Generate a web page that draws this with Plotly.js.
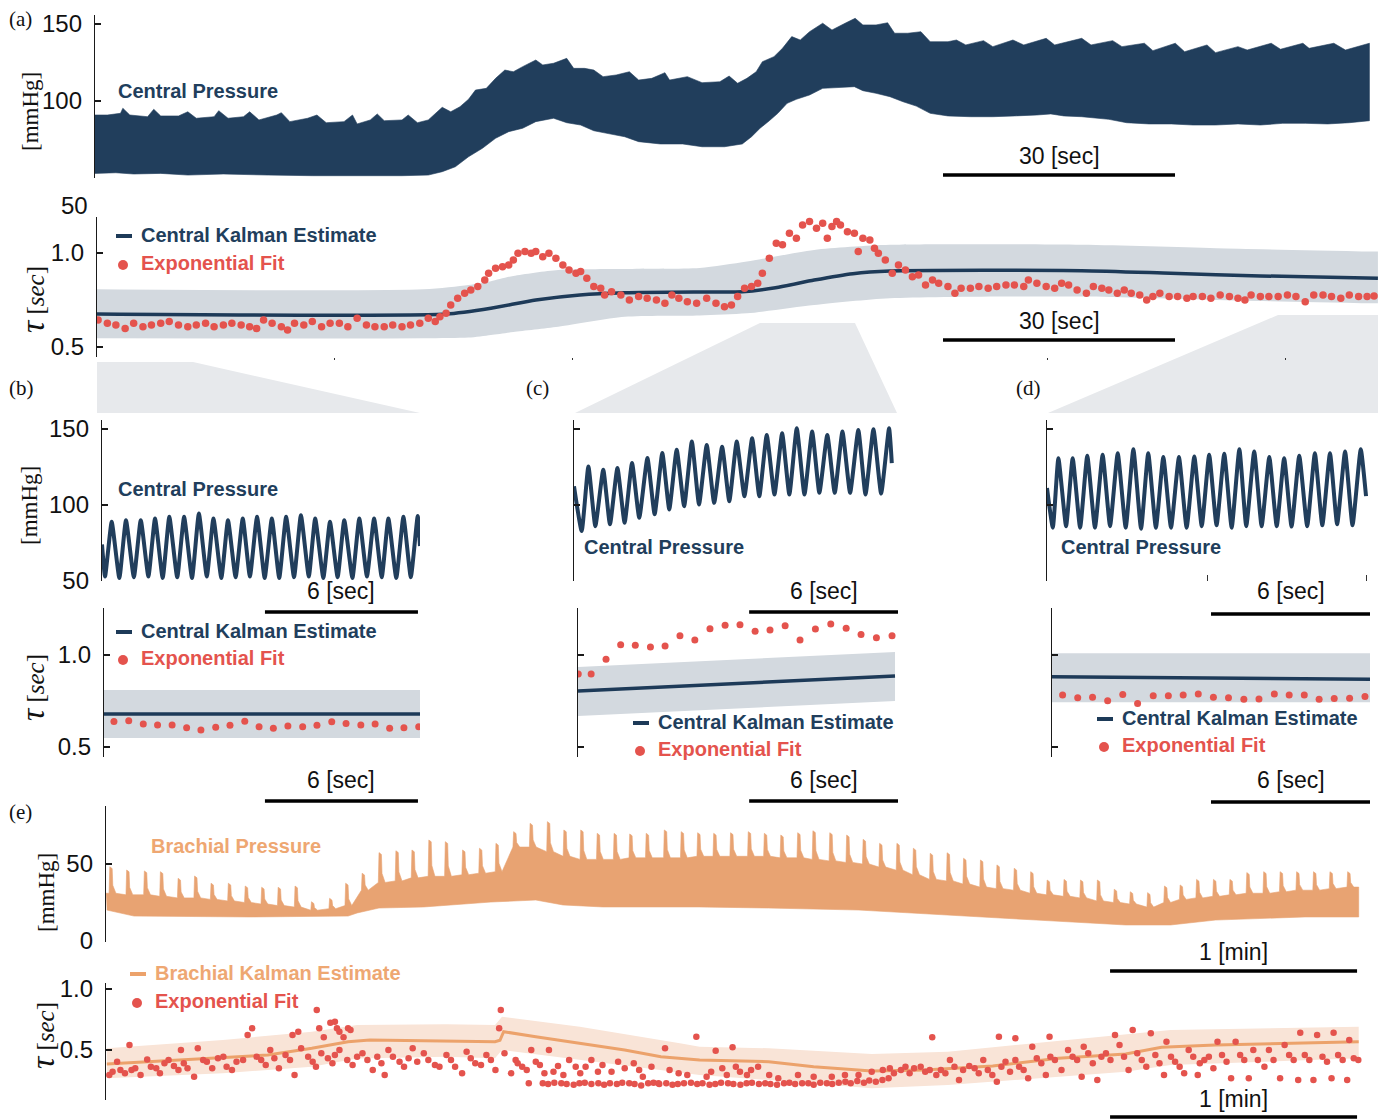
<!DOCTYPE html>
<html>
<head>
<meta charset="utf-8">
<script src="https://cdn.plot.ly/plotly-3.0.1.min.js"></script>
<style>
  html, body { margin: 0; padding: 0; background: #ffffff; }
  #fig { width: 1383px; height: 1119px; }
</style>
</head>
<body>
<div id="fig"></div>
<script>
// ---------------- (a) central pressure: beat-top and beat-bottom envelopes [s, mmHg]
const aUpperT = [0,1.6,3.3,3.6,4.5,6.8,7.6,8.5,10.8,12.0,13.1,15.4,16.0,17.2,19.2,20.0,21.2,23.5,24.1,25.2,27.5,28.7,29.9,32.2,33.3,33.9,35.6,36.5,37.4,39.7,40.5,41.7,43.1,44.9,46.0,47.2,48.3,49.2,50.6,51.8,53.0,54.1,55.3,57.0,57.9,59.3,61.0,61.9,63.3,64.5,65.7,67.4,69.1,70.3,72.0,73.7,74.3,76.6,78.5,80.8,82.0,83.1,84.3,85.5,86.3,87.8,88.9,90.1,91.2,92.4,94.1,95.3,97.0,98.3,99.3,101.0,102.5,103.4,105.1,106.8,108.0,110.3,111.4,112.6,114.9,116.1,118.7,120.1,123.0,124.1,127.6,128.8,131.6,132.8,135.7,136.8,139.7,140.9,143.8,144.9,147.8,149.0,152.1,153.3,156.2,157.0,160.2,161.7,164.8];
const aUpperP = [90.9,90.9,92.0,95.3,90.9,89.8,94.6,90.3,90.3,93.0,88.8,89.8,93.7,88.8,89.8,93.0,87.7,90.9,92.4,86.6,88.8,90.9,85.9,86.6,90.9,85.1,87.7,91.6,87.2,87.7,90.9,85.9,87.7,95.9,93.0,96.3,101.1,107.1,108.2,114.7,120.1,119.0,122.3,126.6,123.4,124.5,127.7,121.2,121.2,120.1,115.8,116.9,119.0,113.6,114.7,118.4,113.6,115.8,111.9,112.5,116.2,111.5,114.7,119.0,125.5,128.8,134.2,141.8,139.6,145.0,150.5,146.1,150.5,153.7,149.4,149.4,150.8,144.0,144.0,145.0,138.5,138.5,139.6,136.4,139.2,135.3,139.6,136.4,140.7,136.4,140.7,136.4,139.2,135.3,137.5,132.7,137.5,132.0,136.4,131.4,135.3,133.1,137.5,133.6,137.5,134.2,137.5,133.1,137.5];
const aLowerT = [0,2.7,5.0,8.5,12.0,16.6,22.4,28.1,33.9,39.7,43.1,44.9,46.6,48.3,50.1,51.8,53.5,55.3,57.0,59.3,61.0,62.8,64.5,66.2,68.5,70.3,73.1,76.0,78.5,81.4,83.7,84.9,86.0,87.2,88.3,89.5,90.7,92.4,94.1,96.4,98.2,99.3,101.0,102.8,104.5,106.2,108.0,110.3,113.2,116.1,118.9,121.8,123.6,125.3,127.6,131.1,133.4,136.3,139.2,142.0,144.9,147.8,150.7,153.6,156.5,159.4,162.2,164.8];
const aLowerP = [53.0,53.4,52.6,53.0,51.9,52.6,51.9,51.5,51.3,51.5,51.9,54.1,57.3,63.8,69.3,75.8,80.1,82.3,86.6,88.8,85.9,84.4,80.7,79.0,76.8,73.6,72.1,72.1,70.3,70.3,72.1,76.8,82.3,87.2,92.0,98.5,101.1,103.9,108.2,108.9,109.3,106.7,105.0,102.8,99.5,96.7,92.0,90.3,89.8,89.8,90.3,90.9,91.6,90.3,89.8,88.1,85.9,85.1,85.1,84.4,84.4,85.1,84.4,85.5,85.5,85.1,85.9,87.2];

// ---------------- (a) time constant: exponential fits and Kalman estimate [s, s]
const aFitT1 = [0.4,1.6,2.7,3.9,5.0,6.2,7.3,8.5,9.6,10.8,12.0,13.1,14.3,15.4,16.6,17.7,18.9,20.0,20.9,21.8,22.9,24.1,24.9,25.8,27.0,28.1,29.3,30.4,31.6,32.7,33.9,35.1,36.2,37.4,38.5,39.7,40.8,42.0,43.1,44.0,44.6,45.4,46.0,46.9,47.8,48.6,49.5,50.4,50.9,51.8,52.7,53.5,54.1,54.7,55.6,56.4,57.0,57.9,58.7,59.6,60.5,61.3,62.2,62.8,63.6,64.5,65.4,65.9,66.8,68.0,69.1,70.3,71.4,72.6,73.7,74.6,75.5,76.6,77.8];
const aFitTau1 = [0.644,0.626,0.617,0.599,0.626,0.608,0.617,0.626,0.635,0.617,0.608,0.617,0.626,0.608,0.617,0.626,0.617,0.608,0.599,0.644,0.626,0.608,0.590,0.626,0.617,0.635,0.608,0.626,0.626,0.608,0.653,0.617,0.608,0.608,0.617,0.608,0.617,0.626,0.653,0.635,0.661,0.679,0.723,0.759,0.786,0.803,0.821,0.856,0.892,0.918,0.927,0.936,0.963,0.998,1.007,0.998,1.007,0.980,0.998,0.972,0.936,0.910,0.892,0.901,0.865,0.821,0.812,0.777,0.794,0.777,0.750,0.768,0.759,0.750,0.732,0.777,0.759,0.741,0.732];
const aFitT2 = [79.1,80.3,81.4,82.3,83.1,84.0,84.9,85.7,86.3,87.2,88.1,88.9,89.8,90.7,91.5,92.4,93.3,94.1,94.7,95.3,95.9,96.4,97.3,98.2,98.7,99.3,100.2,100.8,101.3,102.2,103.1,103.9,104.8,105.7,106.5,107.4,108.3,109.1,110.3,111.2,112.0,113.2,114.3,115.5,116.6,117.8,118.9,120.1,120.7,121.8,123.0,124.1,125.0,125.9,127.0,128.2,129.1,130.2,131.1,132.2,133.1,134.0,135.1,136.0,136.8,137.7,138.9,140.0,141.2,142.0,143.2,144.3,145.5,146.7,147.8,148.7,149.5,150.7,151.8,153.0,154.2,155.3,156.5,157.6,158.8,159.9,161.1,162.2,163.4,164.5,165.4];
const aFitTau2 = [0.759,0.732,0.714,0.723,0.768,0.812,0.821,0.839,0.892,0.972,1.052,1.043,1.105,1.078,1.149,1.167,1.131,1.158,1.078,1.140,1.167,1.149,1.113,1.105,1.007,1.078,1.069,1.025,0.998,0.963,0.892,0.936,0.910,0.874,0.883,0.830,0.856,0.839,0.821,0.786,0.812,0.812,0.821,0.812,0.821,0.830,0.830,0.821,0.856,0.839,0.821,0.812,0.839,0.830,0.803,0.786,0.821,0.812,0.803,0.786,0.803,0.786,0.777,0.750,0.768,0.786,0.768,0.768,0.759,0.768,0.768,0.759,0.777,0.768,0.759,0.750,0.777,0.768,0.768,0.768,0.777,0.768,0.741,0.777,0.777,0.768,0.759,0.777,0.768,0.768,0.771];
const aKalT = [0,45.4,51.2,57.0,62.7,68.5,78.2,83.7,88.0,93.0,98.0,102.8,127.6,139.1,150.7,165.9];
const aKalTau = [0.675,0.675,0.706,0.750,0.777,0.789,0.793,0.794,0.815,0.856,0.890,0.904,0.906,0.892,0.878,0.865];
const aBandT = [0,42.5,48.3,51.2,54.1,59.9,68.5,78.2,84.3,93.0,102.8,127.6,145.0,165.9];
const aBandHi = [0.807,0.807,0.830,0.850,0.878,0.910,0.915,0.920,0.954,1.016,1.043,1.043,1.025,1.007];
const aBandLo = [0.546,0.546,0.550,0.564,0.580,0.608,0.661,0.668,0.679,0.723,0.759,0.768,0.750,0.732];

// ---------------- (b) zoom on the first window
const bEdgeT = [0, 12.47], bEdgeP = [74, 73];
const bTroughT = [0.12,0.68,1.25,1.82,2.38,2.95,3.53,4.11,4.68,5.24,5.80,6.38,6.95,7.53,8.11,8.68,9.24,9.82,10.39,10.97,11.54,12.11];
const bTroughP = [53,52,52.5,53,52,52.5,52,53,52,52.5,53,52,52,52.5,53,52,52.5,52,53,52.5,52,52.5];
const bPeakT = [0.38,0.94,1.52,2.08,2.64,3.22,3.80,4.37,4.94,5.52,6.08,6.66,7.22,7.80,8.36,8.94,9.50,10.09,10.67,11.23,11.82,12.38];
const bPeakP = [88.9,90,90,91.1,92.2,92.2,94.4,91.1,90,91.1,92.2,91.1,92.2,93.3,91.1,88.9,90,91.1,91.1,91.1,92.2,92.7];
const bFitT = [0.47,1.05,1.62,2.18,2.75,3.32,3.88,4.46,5.02,5.60,6.16,6.72,7.29,7.87,8.43,9.01,9.57,10.15,10.71,11.28,11.84,12.42];
const bFitTau = [0.638,0.643,0.625,0.620,0.620,0.605,0.592,0.607,0.618,0.640,0.610,0.602,0.614,0.610,0.618,0.637,0.628,0.620,0.625,0.602,0.605,0.610];
const bKalT = [0.08, 12.47], bKalTau = [0.679, 0.679], bBandHi = [0.810, 0.810], bBandLo = [0.549, 0.549];

// ---------------- (c) zoom on the second window
const cEdgeT = [0, 12.81], cEdgeP = [112.3, 127.6];
const cTroughT = [0.31,0.86,1.45,2.04,2.63,3.25,3.84,4.44,5.04,5.65,6.26,6.87,7.47,8.08,8.68,9.29,9.89,10.51,11.13,11.75,12.38];
const cTroughP = [82.9,86.1,87.3,88.4,91.6,93.9,97.1,99.2,100.3,101.4,102.5,105.8,105.8,106.9,106.9,106.9,108,108,108,106.9,107.5];
const cPeakT = [0.58,1.18,1.75,2.34,2.96,3.56,4.14,4.75,5.35,5.97,6.56,7.18,7.77,8.39,8.98,9.60,10.21,10.82,11.46,12.07,12.70];
const cPeakP = [125.4,123.2,124.3,127.6,130.9,134.2,136.3,141.7,139.5,138.4,141.7,143.9,146.1,147.2,150.5,148.3,146.1,148.3,149.3,149.8,150.5];
const cFitT = [0.17,0.69,1.29,1.88,2.47,3.08,3.67,4.27,4.87,5.48,6.09,6.69,7.30,7.90,8.51,9.11,9.73,10.35,10.97,11.57,12.19,12.82];
const cFitTau = [0.897,0.897,0.977,1.056,1.053,1.043,1.049,1.105,1.082,1.143,1.162,1.165,1.129,1.136,1.159,1.082,1.141,1.168,1.145,1.112,1.094,1.105];
const cKalT = [0.16, 12.94], cKalTau = [0.804, 0.886], cBandHi = [0.935, 1.016], cBandLo = [0.668, 0.750];

// ---------------- (d) zoom on the third window
const dEdgeT = [0, 12.04], dEdgeP = [111.2, 105.8];
const dTroughT = [0.22,0.72,1.25,1.81,2.38,2.97,3.55,4.11,4.68,5.27,5.84,6.40,6.97,7.52,8.10,8.67,9.23,9.82,10.39,10.95,11.53];
const dTroughP = [85.1,86.1,85.1,85.1,86.1,85.1,84.4,85.1,85.1,85.1,86.1,86.6,85.1,86.1,86.1,86.1,85.8,86.1,86.6,87.3,86.6];
const dPeakT = [0.43,0.97,1.52,2.10,2.67,3.26,3.82,4.39,4.98,5.56,6.12,6.69,7.26,7.82,8.39,8.95,9.52,10.11,10.68,11.25,11.84];
const dPeakP = [130.8,130.8,132.4,133,134.1,136.7,134.1,131.5,131.5,131.9,133,133.7,136.7,135.2,131.5,130.8,132.4,134.1,134.1,135.2,136.7];
const dFitT = [0.59,1.16,1.72,2.29,2.86,3.42,4.01,4.58,5.14,5.71,6.28,6.85,7.43,8.00,8.58,9.14,9.71,10.27,10.84,11.42,12.00];
const dFitTau = [0.783,0.768,0.770,0.752,0.786,0.737,0.779,0.779,0.783,0.788,0.770,0.768,0.759,0.761,0.788,0.783,0.783,0.759,0.763,0.765,0.774];
const dKalT = [0.19, 12.19], dKalTau = [0.882, 0.868], dBandHi = [1.009, 1.009], dBandLo = [0.743, 0.743];

// ---------------- (e) brachial pressure: respiratory spikes and lower envelope [s, mmHg]
const eSpikeT = [0.8,4.9,9.2,13.1,17.4,21.4,25.4,29.6,33.7,37.7,41.7,45.8,49.8,54.2,58.1,62.1,66.2,70.3,74.2,78.3,82.3,86.5,90.6,94.6,98.9,102.9,107.1,111.1,115.2,119.2,123.3,127.1,131.1,135.5,139.6,143.6,147.5,151.6,155.9,159.8,163.8,167.9,171.6,175.7,179.8,183.8,187.8,192.0,196.0,200.1,204.2,208.2,212.3,216.3,220.5,224.5,228.5,232.6,236.6,240.7,244.8,248.7,252.9,257.0,260.8,264.8,268.9,272.9,277.0,281.1,285.1,289.1,293.2,297.2,301.5];
const eSpikeTop = [48.2,46.1,45.5,45.0,40.7,42.2,37.5,37.5,35.7,34.9,34.9,35.7,25.5,27.7,37.5,44.0,57.4,58.6,59.1,65.6,64.5,59.1,60.2,63.4,71.0,76.4,77.5,72.1,72.1,69.9,69.9,69.5,69.9,72.1,71.0,70.3,69.9,70.3,71.0,69.9,68.8,70.3,71.6,70.3,68.8,66.0,63.4,63.4,60.2,56.9,57.3,53.7,52.6,49.4,47.2,45.0,39.6,40.0,39.6,39.6,33.6,32.0,31.4,35.7,36.4,40.0,40.0,40.0,44.4,45.0,45.0,45.0,45.0,45.0,45.0];
const eSpikeBase = [31,30,30,29,28,28,27,26,25,24,23,22,20,21,23,33,38,39,41,42,42,43,44,45,61,61,58,55,53,53,53,54,54,54,54,55,55,55,55,55,54,54,53,52,51,50,48,46,43,40,39,37,35,34,33,31,30,29,28,26,25,24,22,25,27,28,29,30,31,31,32,33,33,34,35];
const eLowerT = [0.2,6.8,35.0,58.8,61.0,66.3,77.2,93.5,104.4,111.0,120.7,144.2,161.0,182.9,204.5,226.1,247.7,258.6,269.5,291.2,304.3];
const eLowerP = [20.1,16.2,15.6,16.2,18.2,21.4,22.1,25.3,26.6,23.4,22.1,22.1,21.4,20.1,16.9,13.6,10.4,10.4,13.6,15.6,15.6];

// ---------------- (e) brachial time constant
const eKalT = [0.2,17.7,39.3,50.0,58.8,64.1,82.6,94.5,95.7,96.6,104.4,115.1,126.0,134.8,144.2,161.0,171.9,186.0,198.9,215.4,231.4,247.7,256.4,269.5,285.8,304.3];
const eKalTau = [0.385,0.418,0.459,0.514,0.568,0.582,0.574,0.568,0.580,0.650,0.609,0.555,0.500,0.445,0.418,0.404,0.363,0.328,0.336,0.369,0.432,0.467,0.522,0.541,0.555,0.568];
const eBandT = [0.2,28.4,50.0,61.0,82.6,94.5,96.2,115.1,139.4,144.2,161.0,186.0,204.5,226.1,247.7,258.6,304.3];
const eBandHi = [0.514,0.582,0.650,0.705,0.710,0.705,0.773,0.691,0.555,0.527,0.514,0.467,0.486,0.555,0.623,0.664,0.691];
const eBandLo = [0.268,0.309,0.363,0.430,0.445,0.432,0.500,0.418,0.310,0.295,0.254,0.186,0.213,0.268,0.322,0.377,0.432];
const eFitT1 = [0.8,1.6,2.7,3.5,4.6,5.7,6.2,7.1,8.4,10.0,10.9,12.2,13.1,14.2,15.2,16.5,17.6,18.2,18.9,19.8,21.4,22.3,23.6,24.5,25.8,27.2,28.5,29.3,30.6,31.7,33.3,34.4,35.5,36.6,37.7,38.8,39.9,40.9,42.0,43.6,44.7,45.8,47.4,49.1,50.2,51.0,52.3,53.9,55.0,55.6,56.7,58.6,59.9,61.0,62.3,63.5,64.8,65.9,66.9,67.7,68.6,69.7,71.3,72.4,73.5,74.5,75.6,77.2,78.3,79.9,81.0,82.7,83.8,84.8,86.5,87.6,88.6,89.7,91.1,92.4,93.5,94.6,95.5,95.9];
const eFitTau1 = [0.295,0.322,0.404,0.336,0.309,0.541,0.336,0.350,0.295,0.423,0.363,0.350,0.309,0.391,0.418,0.369,0.336,0.500,0.391,0.350,0.281,0.514,0.418,0.404,0.350,0.432,0.445,0.363,0.336,0.404,0.418,0.623,0.678,0.445,0.418,0.377,0.500,0.432,0.350,0.459,0.418,0.295,0.514,0.445,0.404,0.363,0.473,0.432,0.391,0.459,0.500,0.418,0.377,0.445,0.473,0.418,0.336,0.445,0.391,0.295,0.500,0.445,0.404,0.363,0.432,0.514,0.404,0.473,0.418,0.377,0.363,0.459,0.418,0.363,0.309,0.486,0.432,0.391,0.377,0.459,0.418,0.336,0.678,0.828];
const eFitT2 = [45.3,46.7,51.2,51.8,52.9,54.5,55.6,56.1,56.7,57.7,58.8,59.4];
const eFitTau2 = [0.623,0.650,0.828,0.678,0.604,0.724,0.732,0.678,0.650,0.604,0.678,0.664];
const eFitT3 = [96.8,98.4,99.5,100.0,101.1,102.2,102.7,103.3,104.4,105.4,106.5,107.6,108.7,109.8,111.1,112.5,114.1,115.2,116.5,117.9,119.5,120.6,122.8,124.4,126.0,128.2,129.5,130.4,132.5,134.2,135.8,136.9,139.1,141.2,143.4];
const eFitTau3 = [0.473,0.309,0.418,0.391,0.363,0.336,0.227,0.500,0.404,0.377,0.309,0.500,0.322,0.369,0.295,0.418,0.363,0.309,0.363,0.418,0.322,0.377,0.322,0.404,0.350,0.391,0.336,0.281,0.363,0.227,0.514,0.336,0.309,0.295,0.609];
const eFitT4 = [106.1,107.4,108.9,110.6,111.9,113.6,115.0,116.3,117.9,119.6,121.0,122.4,124.1,125.4,127.1,128.4,130.0,131.7,133.0,134.4,136.1,137.6,138.9,140.4,142.1,143.6,144.9,146.6,148.0,149.4,151.1,152.4,154.1,155.6,156.9,158.6,160.1,161.4,163.0,164.7,166.0,167.4,169.1,170.6,171.9,173.5,175.1,176.4,178.0,179.6,180.9,182.5,184.1,185.4,187.0,188.6,190.1];
const eFitTau4 = [0.227,0.221,0.232,0.227,0.221,0.216,0.227,0.232,0.221,0.227,0.216,0.227,0.221,0.232,0.227,0.221,0.210,0.227,0.232,0.221,0.227,0.216,0.221,0.227,0.232,0.221,0.227,0.216,0.221,0.232,0.227,0.221,0.216,0.227,0.232,0.221,0.227,0.221,0.216,0.227,0.232,0.221,0.227,0.227,0.216,0.232,0.227,0.221,0.232,0.240,0.227,0.245,0.232,0.250,0.240,0.254,0.268];
const eFitT5 = [145.9,147.0,148.1,149.7,150.8,152.2,153.0,154.0,155.7,156.7,158.4,161.1,163.3,168.1,171.9,176.3,179.5,182.8,186.0,188.7];
const eFitTau5 = [0.281,0.322,0.494,0.350,0.295,0.522,0.363,0.322,0.295,0.336,0.363,0.295,0.268,0.295,0.281,0.281,0.295,0.295,0.322,0.336];
const eFitT6 = [190.4,191.4,193.1,194.2,195.2,196.3,197.9,199.0,200.1,201.7,202.8,203.9,205.0,206.1,207.2,208.2,209.7,211.0,212.0,213.1,214.2,215.3,216.4,217.5,218.5,219.6,220.9,221.8,222.9,224.0,225.0,226.1,227.2,228.3,229.4,230.5,232.1,233.7,234.8,235.9,237.0,237.5,238.6,239.7,240.8,241.8,242.9,244.0,245.1,246.2,247.3,248.4,249.4,250.5,251.6,252.7,253.8,254.9,255.9,257.0,257.6,258.7,259.7,260.8,261.9,263.0,264.1,265.2,265.7,266.8,267.9,269.0,270.0,271.1,272.2,273.3,274.4,275.5,276.5,277.6,278.7,279.8,281.4,282.5,283.6,285.2,286.3,287.4,288.5,289.6,290.1,291.2,292.3,293.3,294.2,295.5,296.6,297.7,298.2,299.3,300.4,301.5,302.0,303.1,304.2,200.7,216.9,220.9,229.2];
const eFitTau6 = [0.350,0.309,0.336,0.363,0.309,0.350,0.363,0.322,0.336,0.295,0.336,0.309,0.418,0.363,0.254,0.336,0.369,0.350,0.309,0.418,0.336,0.295,0.240,0.363,0.404,0.322,0.418,0.363,0.336,0.268,0.527,0.432,0.391,0.295,0.445,0.418,0.336,0.500,0.445,0.418,0.281,0.527,0.473,0.391,0.254,0.445,0.473,0.418,0.623,0.541,0.445,0.336,0.664,0.473,0.418,0.363,0.637,0.459,0.391,0.295,0.568,0.445,0.404,0.363,0.309,0.500,0.445,0.295,0.391,0.418,0.445,0.350,0.568,0.459,0.404,0.268,0.568,0.459,0.418,0.268,0.500,0.418,0.363,0.500,0.418,0.268,0.541,0.459,0.418,0.254,0.642,0.459,0.418,0.254,0.623,0.445,0.404,0.268,0.642,0.459,0.418,0.254,0.582,0.432,0.418,0.604,0.609,0.596,0.609];

// ---------------- scale bars (length in axis units)
const scaleA = 30, scaleZoom = 6, scaleE = 60;

// ======================================================================
const W = 1383, H = 1119;
const fx = p => p / W;            // pixel column -> paper fraction
const fy = p => 1 - p / H;        // pixel row    -> paper fraction

const COL = {
  navy: '#213e5c', kal: '#1d3a58', red: '#e4534d', band: '#d3d9df', link: '#e7e9ec',
  orange: '#e8a372', orangeLine: '#eca26b', orangeBand: '#f9e4d7', orangeText: '#eea772', ink: '#111111'
};
const SANS = 'Liberation Sans, Arial, Helvetica, sans-serif';
const SERIF = 'Liberation Serif, Times New Roman, serif';

const layout = {
  width: W, height: H, margin: {l: 0, r: 0, t: 0, b: 0},
  paper_bgcolor: '#ffffff', plot_bgcolor: 'rgba(0,0,0,0)',
  showlegend: false, shapes: [], annotations: []
};
const data = [];
let nAx = 0;

function makeAxes(xPix, yPix, xRange, yRange, yTickVals, yTickText, xTicks) {
  nAx += 1;
  const s = nAx === 1 ? '' : String(nAx);
  const xa = {
    domain: [fx(xPix[0]), fx(xPix[1])], range: xRange, anchor: 'y' + s,
    showgrid: false, zeroline: false, showline: false, showticklabels: false, fixedrange: true
  };
  if (xTicks) {
    Object.assign(xa, {ticks: xTicks.dir, ticklen: xTicks.len, tickwidth: 1, tickcolor: '#333', tickvals: xTicks.vals});
  } else {
    xa.ticks = '';
  }
  layout['xaxis' + s] = xa;
  layout['yaxis' + s] = {
    domain: [fy(yPix[1]), fy(yPix[0])], range: yRange, anchor: 'x' + s,
    showgrid: false, zeroline: false, showline: true, linecolor: '#1a1a1a', linewidth: 1.2,
    ticks: 'inside', ticklen: 6, tickwidth: 1.2, tickcolor: '#1a1a1a',
    tickvals: yTickVals, ticktext: yTickText || undefined, showticklabels: !!yTickText,
    tickfont: {family: SANS, size: 24, color: COL.ink}, ticklabelstandoff: 7, fixedrange: true
  };
  return {x: 'x' + s, y: 'y' + s};
}

function addPoly(ax, xs, ys, color) {
  data.push({type: 'scatter', mode: 'lines', x: xs, y: ys, xaxis: ax.x, yaxis: ax.y,
    fill: 'toself', fillcolor: color, line: {color: color, width: 0.6},
    hoverinfo: 'skip'});
}
// confidence band: lower edge first, upper edge filled down onto it
function addBand(ax, t, hi, lo, color, shape) {
  data.push({type: 'scatter', mode: 'lines', x: t, y: lo, xaxis: ax.x, yaxis: ax.y,
    line: {width: 0, shape: shape || 'linear', smoothing: 0.7}, hoverinfo: 'skip'});
  data.push({type: 'scatter', mode: 'lines', x: t, y: hi, xaxis: ax.x, yaxis: ax.y,
    fill: 'tonexty', fillcolor: color,
    line: {width: 0, shape: shape || 'linear', smoothing: 0.7}, hoverinfo: 'skip'});
}
function addLine(ax, xs, ys, color, width, shape) {
  data.push({type: 'scatter', mode: 'lines', x: xs, y: ys, xaxis: ax.x, yaxis: ax.y,
    line: {color: color, width: width, shape: shape || 'linear', smoothing: 0.6}, hoverinfo: 'skip'});
}
function addDots(ax, xs, ys, size) {
  data.push({type: 'scatter', mode: 'markers', x: xs, y: ys, xaxis: ax.x, yaxis: ax.y,
    marker: {color: COL.red, size: size, line: {width: 0}}, hoverinfo: 'skip'});
}
// pressure trace through alternating trough / peak readings
function addWave(ax, edgeT, edgeP, trT, trP, pkT, pkP) {
  const t = [edgeT[0]], p = [edgeP[0]];
  trT.forEach((v, i) => { t.push(v, pkT[i]); p.push(trP[i], pkP[i]); });
  t.push(edgeT[1]); p.push(edgeP[1]);
  data.push({type: 'scatter', mode: 'lines', x: t, y: p, xaxis: ax.x, yaxis: ax.y,
    line: {color: COL.navy, width: 4, shape: 'spline', smoothing: 0.45}, hoverinfo: 'skip'});
}
function text(str, x, y, opt) {
  opt = opt || {};
  layout.annotations.push({xref: 'paper', yref: 'paper', x: fx(x), y: fy(y), text: str, showarrow: false,
    xanchor: opt.xanchor || 'left', yanchor: 'middle', textangle: opt.angle || 0,
    font: {family: opt.family || SANS, size: opt.size || 20, color: opt.color || COL.ink}});
}
function scaleBar(ax, tEnd, len, barY, textY, label) {
  layout.shapes.push({type: 'line', xref: ax.x, yref: 'paper', x0: tEnd - len, x1: tEnd,
    y0: fy(barY), y1: fy(barY), line: {color: '#000', width: 3.5}});
  layout.annotations.push({xref: ax.x, yref: 'paper', x: tEnd - len / 2, y: fy(textY), text: label,
    showarrow: false, xanchor: 'center', yanchor: 'middle', font: {family: SANS, size: 23, color: COL.ink}});
}
function legendKey(x, yLine, yDot, lineColor, lineLabel, lineLabelColor) {
  layout.shapes.push({type: 'line', xref: 'paper', yref: 'paper', x0: fx(x), x1: fx(x + 16),
    y0: fy(yLine), y1: fy(yLine), line: {color: lineColor, width: 4}});
  layout.shapes.push({type: 'circle', xref: 'paper', yref: 'paper', x0: fx(x + 2), x1: fx(x + 12),
    y0: fy(yDot + 5), y1: fy(yDot - 5), fillcolor: COL.red, line: {width: 0}});
  text('<b>' + lineLabel + '</b>', x + 23, yLine - 1, {color: lineLabelColor});
  text('<b>Exponential Fit</b>', x + 23, yDot - 2, {color: COL.red});
}
function pathPoly(pts) {
  return 'M' + pts.map(p => fx(p[0]).toFixed(5) + ',' + fy(p[1]).toFixed(5)).join('L') + 'Z';
}

// zoom connectors between the overview and the zoomed panels
[
  [[97, 362], [193, 362], [420, 413], [97, 413]],
  [[760, 323], [855, 323], [897, 413], [575, 413]],
  [[1278, 315], [1378, 315], [1378, 413], [1048, 413]]
].forEach(pts => layout.shapes.push({type: 'path', xref: 'paper', yref: 'paper', path: pathPoly(pts),
  fillcolor: COL.link, line: {width: 0}, layer: 'below'}));

// ---------- (a)
const axAP = makeAxes([95, 1378], [15, 178], [0, 165.91], [50, 155.84], [100, 150], ['100', '150']);
const axAT = makeAxes([97, 1378], [217, 357], [0.26, 165.91], [0.447, 1.191], [0.5, 1.0], ['0.5', '1.0'],
  {dir: 'outside', len: 2, vals: [31.0, 61.7, 123.2, 153.9]});
addPoly(axAP, aUpperT.concat(aLowerT.slice().reverse()), aUpperP.concat(aLowerP.slice().reverse()), COL.navy);
addBand(axAT, aBandT, aBandHi, aBandLo, COL.band, 'spline');
addLine(axAT, aKalT, aKalTau, COL.kal, 3.5, 'spline');
addDots(axAT, aFitT1.concat(aFitT2), aFitTau1.concat(aFitTau2), 7.5);
scaleBar(axAP, 139.66, scaleA, 175, 156, '30 [sec]');
scaleBar(axAT, 139.66, scaleA, 340, 321, '30 [sec]');

// ---------- (b)
const axBP = makeAxes([102, 420], [420, 581], [0, 12.47], [50, 155.92], [50, 100, 150], ['50', '100', '150']);
const axBT = makeAxes([104, 420], [608, 757], [0.08, 12.47], [0.4457, 1.2554], [0.5, 1.0], ['0.5', '1.0']);
addWave(axBP, bEdgeT, bEdgeP, bTroughT, bTroughP, bPeakT, bPeakP);
addBand(axBT, bKalT, bBandHi, bBandLo, COL.band);
addLine(axBT, bKalT, bKalTau, COL.kal, 3.5);
addDots(axBT, bFitT, bFitTau, 7);
scaleBar(axBP, 12.39, scaleZoom, 612, 591, '6 [sec]');
scaleBar(axBT, 12.39, scaleZoom, 801, 780, '6 [sec]');

// ---------- (c)
const axCP = makeAxes([574, 898], [420, 581], [0, 13.06], [50, 155.92], [100, 150], null);
const axCT = makeAxes([578, 898], [608, 757], [0.16, 13.06], [0.4457, 1.2554], [0.5, 1.0], null);
addWave(axCP, cEdgeT, cEdgeP, cTroughT, cTroughP, cPeakT, cPeakP);
addBand(axCT, cKalT, cBandHi, cBandLo, COL.band);
addLine(axCT, cKalT, cKalTau, COL.kal, 3.5);
addDots(axCT, cFitT, cFitTau, 7);
scaleBar(axCP, 13.06, scaleZoom, 612, 591, '6 [sec]');
scaleBar(axCT, 13.06, scaleZoom, 801, 780, '6 [sec]');

// ---------- (d)
const axDP = makeAxes([1047, 1370], [420, 581], [0, 12.19], [50, 155.92], [100, 150], null,
  {dir: 'inside', len: 6, vals: [6.04, 12.04]});
const axDT = makeAxes([1052, 1370], [608, 757], [0.19, 12.19], [0.4457, 1.2554], [0.5, 1.0], null);
addWave(axDP, dEdgeT, dEdgeP, dTroughT, dTroughP, dPeakT, dPeakP);
addBand(axDT, dKalT, dBandHi, dBandLo, COL.band);
addLine(axDT, dKalT, dKalTau, COL.kal, 3.5);
addDots(axDT, dFitT, dFitTau, 7);
scaleBar(axDP, 12.19, scaleZoom, 614, 591, '6 [sec]');
scaleBar(axDT, 12.19, scaleZoom, 802, 780, '6 [sec]');

// ---------- (e)
const axEP = makeAxes([106, 1362], [806, 942], [0, 305.1], [-0.65, 87.66], [0, 50], ['0', '50']);
const axET = makeAxes([106, 1362], [983, 1100], [0, 305.1], [0.0902, 1.049], [0.5, 1.0], ['0.5', '1.0']);
(function () {
  // upper edge: body level with a narrow column and a short shoulder at every respiratory peak
  const t = [0], p = [eSpikeBase[0]];
  eSpikeT.forEach((s, i) => {
    const b = eSpikeBase[i], top = eSpikeTop[i];
    t.push(s - 0.05, s + 0.12, s + 0.7, s + 0.85, s + 1.6);
    p.push(b, top, top - 1.2, b + 0.3 * (top - b), b);
  });
  t.push(eLowerT[eLowerT.length - 1]); p.push(eSpikeBase[eSpikeBase.length - 1]);
  addPoly(axEP, t.concat(eLowerT.slice().reverse()), p.concat(eLowerP.slice().reverse()), COL.orange);
})();
addBand(axET, eBandT, eBandHi, eBandLo, COL.orangeBand);
addLine(axET, eKalT, eKalTau, COL.orangeLine, 3);
addDots(axET,
  eFitT1.concat(eFitT2, eFitT3, eFitT4, eFitT5, eFitT6),
  eFitTau1.concat(eFitTau2, eFitTau3, eFitTau4, eFitTau5, eFitTau6), 6.5);
scaleBar(axEP, 303.9, scaleE, 971, 952, '1 [min]');
scaleBar(axET, 303.9, scaleE, 1117, 1099, '1 [min]');

// ---------- panel letters, axis titles, in-plot labels
text('(a)', 7, 19, {family: SERIF, size: 21});
text('(b)', 7, 388, {family: SERIF, size: 21});
text('(c)', 524, 388, {family: SERIF, size: 21});
text('(d)', 1014, 388, {family: SERIF, size: 21});
text('(e)', 7, 812, {family: SERIF, size: 21});
text('50', 74, 205, {xanchor: 'center', size: 24});

const tauTitle = '<span style="font-size:34px"><i>τ</i></span> [<i>sec</i>]';
text('[mmHg]', 31, 112, {xanchor: 'center', angle: -90, family: SERIF, size: 23});
text(tauTitle, 33, 300, {xanchor: 'center', angle: -90, family: SERIF, size: 25});
text('[mmHg]', 30, 506, {xanchor: 'center', angle: -90, family: SERIF, size: 23});
text(tauTitle, 32, 688, {xanchor: 'center', angle: -90, family: SERIF, size: 25});
text('[mmHg]', 46, 893, {xanchor: 'center', angle: -90, family: SERIF, size: 23});
text(tauTitle, 42, 1036, {xanchor: 'center', angle: -90, family: SERIF, size: 25});

text('<b>Central Pressure</b>', 116, 91, {color: COL.navy});
text('<b>Central Pressure</b>', 116, 489, {color: COL.navy});
text('<b>Central Pressure</b>', 582, 547, {color: COL.navy});
text('<b>Central Pressure</b>', 1059, 547, {color: COL.navy});
text('<b>Brachial Pressure</b>', 149, 846, {color: COL.orangeText});

legendKey(116, 236, 265, COL.kal, 'Central Kalman Estimate', COL.navy);
legendKey(116, 632, 660, COL.kal, 'Central Kalman Estimate', COL.navy);
legendKey(633, 723, 751, COL.kal, 'Central Kalman Estimate', COL.navy);
legendKey(1097, 719, 747, COL.kal, 'Central Kalman Estimate', COL.navy);
legendKey(130, 974, 1003, COL.orangeLine, 'Brachial Kalman Estimate', COL.orangeText);

Plotly.newPlot('fig', data, layout, {staticPlot: true, displayModeBar: false});
</script>
</body>
</html>
